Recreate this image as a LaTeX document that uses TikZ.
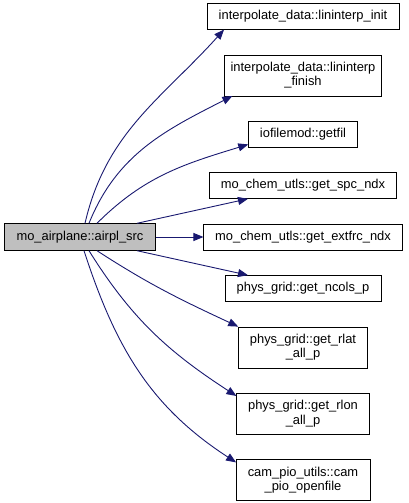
\documentclass[tikz,border=0pt]{standalone}
\usepackage{fontspec}
\setmainfont{Liberation Sans}
\usepackage{tikz}
\usetikzlibrary{arrows.meta, positioning, calc}
\definecolor{edgeblue}{RGB}{25,25,112}
\definecolor{callergray}{RGB}{191,191,191}
\tikzstyle{caller} = [rectangle, minimum width=151pt, minimum height=27pt, inner xsep=4pt, text centered, draw=black, fill=callergray]
\tikzstyle{callee} = [rectangle, minimum height=26pt, inner xsep=11.5pt, text centered, draw=black, fill=white]
\tikzstyle{callee2} = [rectangle, minimum height=41pt, inner xsep=11.5pt, align=center, draw=black, fill=white]
\tikzstyle{arrow} = [draw=edgeblue, line width=0.9pt, -{Triangle[length=10pt,width=8pt]}]

\begin{document}
\begin{tikzpicture}[x=1pt, y=1pt, node distance=25pt, font=\fontsize{12.9}{14.5}\selectfont]
\useasboundingbox (0,0) rectangle (409,-503);
\node (airpl) [caller] at (80,-237) {mo\_airplane::airpl\_src};
\node (extfrc) [callee] at (303,-237) {mo\_chem\_utls::get\_extfrc\_ndx};
\node (spc) [callee, above=of extfrc] {mo\_chem\_utls::get\_spc\_ndx};
\node (getfil) [callee, above=of spc] {iofilemod::getfil};
\node (finish) [callee2, inner xsep=6pt, above=of getfil] {interpolate\_data::lininterp\\\_finish};
\node (init) [callee, above=of finish] {interpolate\_data::lininterp\_init};
\node (ncols) [callee, below=of extfrc] {phys\_grid::get\_ncols\_p};
\node (rlat) [callee2, below=of ncols] {phys\_grid::get\_rlat\\\_all\_p};
\node (rlon) [callee2, below=of rlat] {phys\_grid::get\_rlon\\\_all\_p};
\node (openfile) [callee2, below=of rlon] {cam\_pio\_utils::cam\\\_pio\_openfile};

\draw [arrow] ([xshift=5pt]airpl.north) to[out=77, in=228] ([xshift=17pt]init.south west);
\draw [arrow] ([xshift=9pt]airpl.north) to[out=68, in=207] ([xshift=8pt]finish.south west);
\draw [arrow] ([xshift=17pt]airpl.north) to[out=45, in=197] ([yshift=3pt]getfil.south west);
\draw [arrow] ([xshift=57pt]airpl.north) -- ([xshift=-55pt]spc.south);
\draw [arrow] (airpl.east) -- (extfrc.west);
\draw [arrow] ([xshift=57pt]airpl.south) -- ([xshift=-55pt]ncols.north);
\draw [arrow] ([xshift=17pt]airpl.south) to[out=-33, in=155] (rlat.north west);
\draw [arrow] ([xshift=9pt]airpl.south) to[out=-58, in=147] ([yshift=-3pt]rlon.north west);
\draw [arrow] ([xshift=4pt]airpl.south) to[out=-72, in=147] ([yshift=-3pt]openfile.north west);
\end{tikzpicture}
\end{document}
